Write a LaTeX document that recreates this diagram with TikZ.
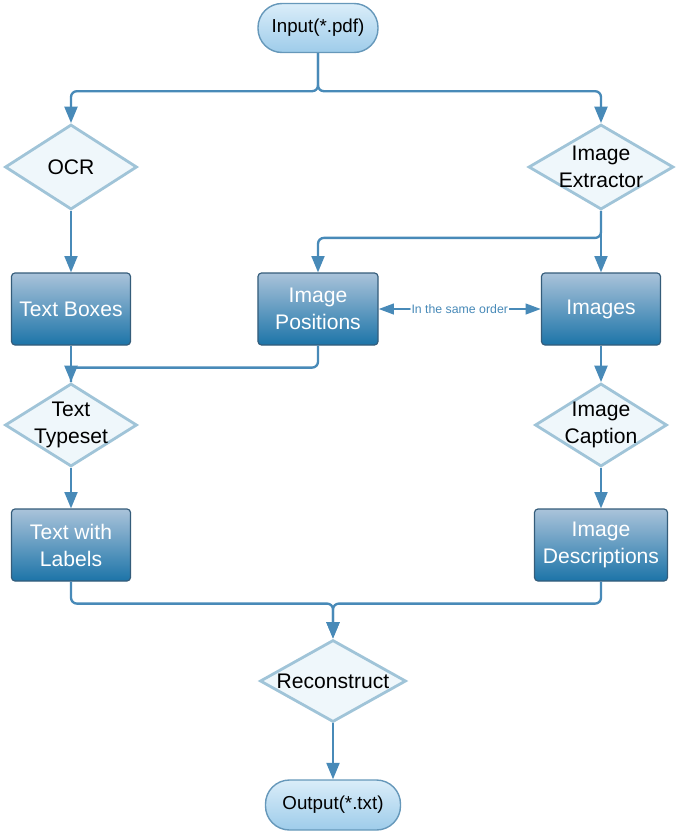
\documentclass[tikz,border=0pt]{standalone}
\usepackage{fontspec}
\setmainfont{Liberation Sans}
\usetikzlibrary{positioning,shapes.geometric,arrows.meta}

\definecolor{flowblue}{RGB}{72,138,184}
\definecolor{boxtop}{RGB}{170,195,218}
\definecolor{boxbot}{RGB}{28,116,168}
\definecolor{boxrim}{RGB}{52,92,122}
\definecolor{diafill}{RGB}{239,247,251}
\definecolor{diarim}{RGB}{160,196,216}
\definecolor{termtop}{RGB}{218,237,249}
\definecolor{termbot}{RGB}{158,204,234}
\definecolor{termrim}{RGB}{102,152,186}

\begin{document}
\begin{tikzpicture}[x=0.03cm,y=-0.03cm,>={Triangle[length=14pt,width=11pt]},
    flow/.style={->,draw=flowblue,line width=2pt,rounded corners=5pt},
    stepbox/.style={rectangle,rounded corners=3pt,draw=boxrim,line width=1pt,
        top color=boxtop,bottom color=boxbot,text=white,align=center,
        minimum width=3.57cm,minimum height=2.16cm,inner sep=0pt,
        font=\fontsize{18}{23}\selectfont},
    decide/.style={diamond,draw=diarim,line width=2.4pt,fill=diafill,inner sep=0pt,
        minimum width=3.96cm,minimum height=2.55cm},
    decidetext/.style={align=center,font=\fontsize{18}{23}\selectfont},
    term/.style={rectangle,rounded corners=0.72cm,draw=termrim,line width=1.2pt,
        top color=termtop,bottom color=termbot,minimum height=1.47cm,inner sep=0pt,
        font=\fontsize{16}{19}\selectfont}]
        \useasboundingbox (0,0) rectangle (678,833);
        % start and end
        \node[term,minimum width=3.6cm] (inp) at (318,28) {Input(*.pdf)};
        \node[term,minimum width=4.05cm,minimum height=1.5cm] (outp) at (333,805) {Output(*.txt)};
        % decisions
        \node[decide,label={[decidetext]center:OCR}] (ocr) at (71,167) {};
        \node[decide,minimum width=4.35cm,label={[decidetext]center:Image\\Extractor}] (iext) at (601,167) {};
        \node[decide,minimum height=2.49cm,label={[decidetext]center:Text\\Typeset}] (ttype) at (71,425) {};
        \node[decide,minimum height=2.49cm,label={[decidetext]center:Image\\Caption}] (icap) at (601,425) {};
        \node[decide,minimum width=4.38cm,minimum height=2.46cm,label={[decidetext]center:Reconstruct}] (recon) at (333,681) {};
        % boxes
        \node[stepbox] (tbox) at (71,309) {Text Boxes};
        \node[stepbox,minimum width=3.6cm] (ipos) at (318,309) {Image\\Positions};
        \node[stepbox] (imgs) at (601,309) {Images};
        \node[stepbox] (twl) at (71,545) {Text with\\Labels};
        \node[stepbox,minimum width=3.99cm] (idesc) at (601,545) {Image\\Descriptions};
        % connectors
        \draw[flow] (inp.south) -- ++(0,38) -| (ocr.north);
        \draw[flow] (inp.south) -- ++(0,38) -| (iext.north);
        \draw[flow] (ocr.south) -- (tbox.north);
        \draw[flow] (iext.south) -- (imgs.north);
        \draw[flow] (iext.south) -- ++(0,27) -| (ipos.north);
        \draw[flow] (tbox.south) -- (ttype.north);
        \draw[flow,-] (ipos.south) -- ++(0,22) -| (ttype.north);
        \draw[flow] (imgs.south) -- (icap.north);
        \draw[flow] (ttype.south) -- (twl.north);
        \draw[flow] (icap.south) -- (idesc.north);
        \draw[flow] (twl.south) -- ++(0,22) -| (recon.north);
        \draw[flow] (idesc.south) -- ++(0,22) -| (recon.north);
        \draw[flow] (recon.south) -- (outp.north);
        \draw[flow,<->,>={Triangle[length=13pt,width=9pt]}] (ipos.east) -- node[fill=white,inner sep=1pt,text=flowblue,font=\fontsize{10.5}{12}\selectfont] {In the same order} (imgs.west);
\end{tikzpicture}
\end{document}
